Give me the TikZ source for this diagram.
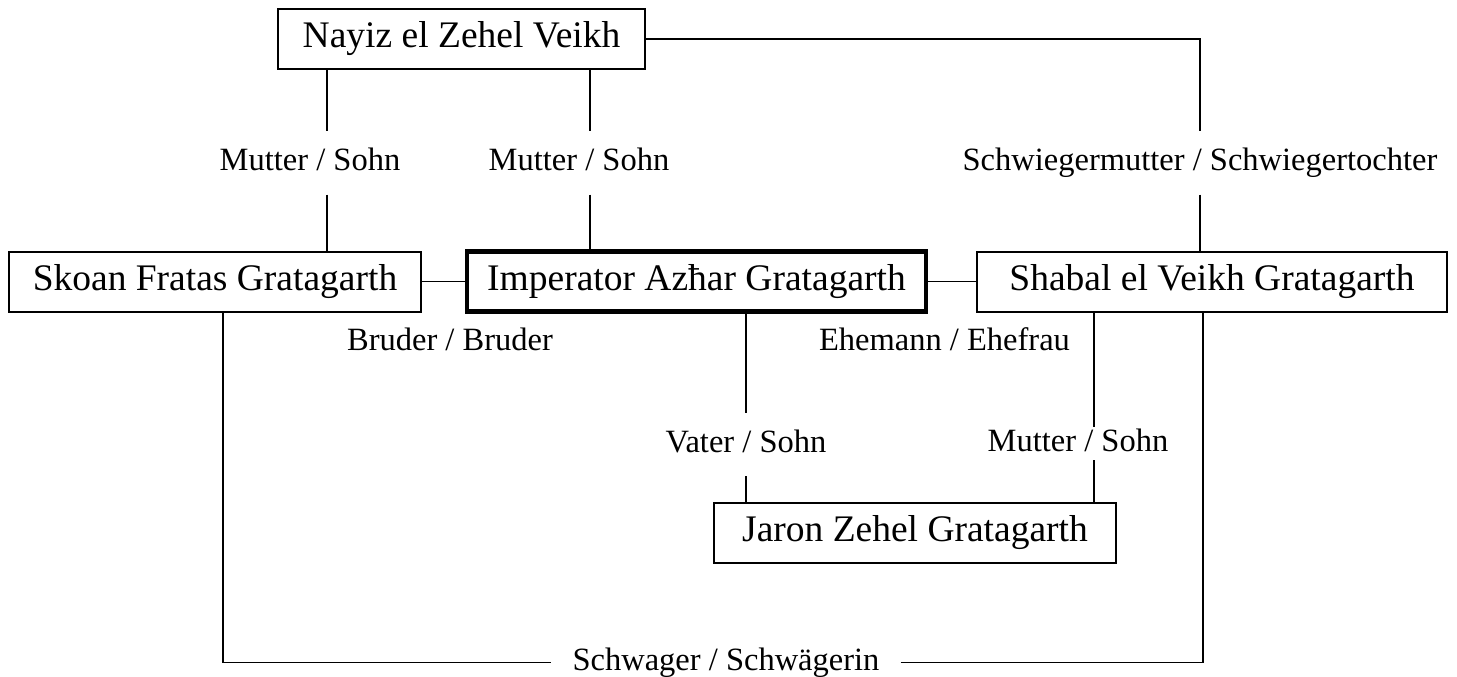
\documentclass[tikz,border=0pt]{standalone}
\usepackage{fontspec}
\setmainfont{Liberation Serif}
\newcommand{\nodefnt}{\fontsize{37.5pt}{45pt}\selectfont}
\newcommand{\labfnt}{\fontsize{32.5pt}{39pt}\selectfont}
\tikzset{
  person/.style={draw, line width=2pt, font=\nodefnt, inner sep=0pt, minimum height=60pt, align=center},
  focus/.style={person, line width=4.5pt},
  rel/.style={font=\labfnt, inner sep=0pt, text height=22pt, text depth=7pt, minimum height=63pt},
  edge/.style={line width=1.3pt}
}
\begin{document}
\begin{tikzpicture}[x=1pt, y=-1pt]
\useasboundingbox (0,0) rectangle (1457,677);
% persons
\node[person, minimum width=367pt] (nayiz) at (461.5,39) {Nayiz el Zehel Veikh};
\node[person, minimum width=412pt] (skoan) at (215,281.5) {Skoan Fratas Gratagarth};
\node[focus, minimum width=459pt] (imp) at (696.5,281.5) {Imperator Azħar Gratagarth};
\node[person, minimum width=470pt] (shabal) at (1212,281.5) {Shabal el Veikh Gratagarth};
\node[person, minimum width=402pt] (jaron) at (915,533) {Jaron Zehel Gratagarth};
% relation labels
\node[rel] (lsw) at (1200,163) {Schwiegermutter / Schwiegertochter};
\node[rel] (lm1) at (310,163) {Mutter / Sohn};
\node[rel] (lm2) at (579,163) {Mutter / Sohn};
\node[rel] (lbr) at (450,343) {Bruder / Bruder};
\node[rel] (leh) at (944.5,343) {Ehemann / Ehefrau};
\node[rel] (lva) at (746,444.5) {Vater / Sohn};
\node[rel, minimum height=33pt] (lm3) at (1078,443.5) {Mutter / Sohn};
\node[rel, inner xsep=21pt] (lsc) at (726,662.5) {Schwager / Schwägerin};
% line columns
\coordinate (c1) at (327,0);
\coordinate (c2) at (590,0);
\coordinate (c3) at (1094,0);
\coordinate (c4) at (223,0);
\coordinate (c5) at (1203,0);
% connectors
\draw[edge] (nayiz.east) -| (lsw.north);
\draw[edge] (lsw.south) -- (lsw.south |- shabal.north);
\draw[edge] (nayiz.south -| c1) -- (lm1.north -| c1);
\draw[edge] (lm1.south -| c1) -- (skoan.north -| c1);
\draw[edge] (nayiz.south -| c2) -- (lm2.north -| c2);
\draw[edge] (lm2.south -| c2) -- (imp.north -| c2);
\draw[edge] (skoan.east) -- (imp.west);
\draw[edge] (imp.east) -- (shabal.west);
\draw[edge] (imp.south -| lva) -- (lva.north);
\draw[edge] (lva.south) -- (jaron.north -| lva);
\draw[edge] (shabal.south -| c3) -- (lm3.north -| c3);
\draw[edge] (lm3.south -| c3) -- (jaron.north -| c3);
\draw[edge] (skoan.south -| c4) |- (lsc.west);
\draw[edge] (lsc.east) -| (shabal.south -| c5);
\end{tikzpicture}
\end{document}
